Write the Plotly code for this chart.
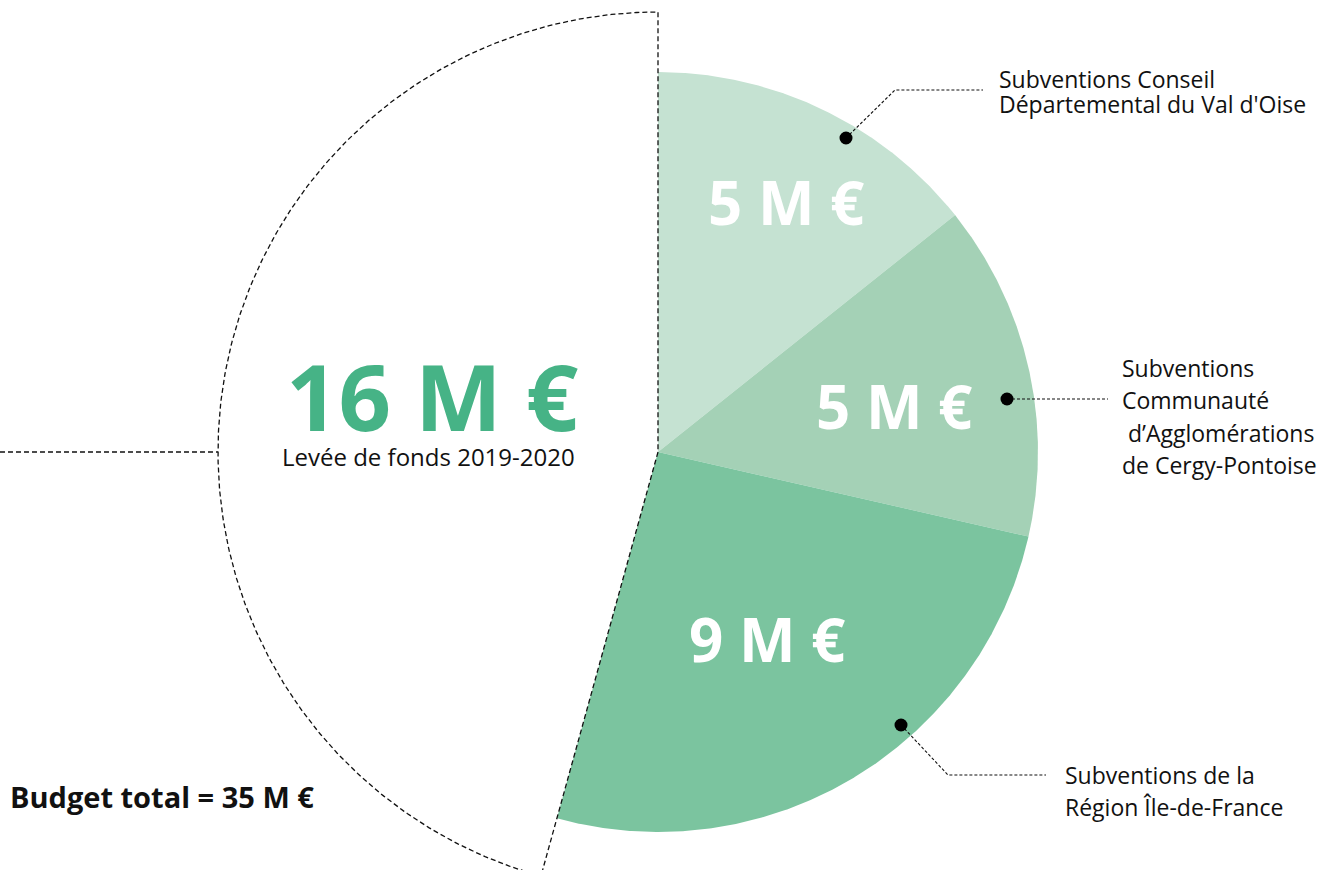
import numpy as np
import plotly.graph_objects as go

# ---- data ----
slice_names = [
    "Subventions Conseil Départemental du Val d'Oise",
    "Subventions Communauté d’Agglomérations de Cergy-Pontoise",
    "Subventions de la Région Île-de-France",
    "Levée de fonds 2019-2020",
]
slice_values = [5, 5, 9, 16]          # M €
budget_total = 35                     # M €
label_lines = [
    ["Subventions Conseil", "Départemental du Val d'Oise"],
    ["Subventions", "Communauté", "\u00a0d’Agglomérations", "de Cergy-Pontoise"],
    ["Subventions de la", "Région Île-de-France"],
]

# ---- styles / geometry ----
slice_colors = ["#C5E2D2", "#A4D1B6", "#7BC49F", "#FFFFFF"]
CX, CY = 658, 452
radii = [380, 380, 380, 440]
FONT = "Open Sans"
TXT = "#111111"

fig = go.Figure()

total = sum(slice_values)
cum = np.concatenate([[0], np.cumsum(slice_values)])


def wedge(i, n=300):
    a0 = cum[i] / total * 2 * np.pi
    a1 = cum[i + 1] / total * 2 * np.pi
    t = np.linspace(a0, a1, n)
    r = radii[i]
    xs = np.concatenate([[CX], CX + r * np.sin(t), [CX]])
    ys = np.concatenate([[CY], CY - r * np.cos(t), [CY]])
    return xs, ys


# white (big) slice fill
xw, yw = wedge(3)
fig.add_trace(go.Scatter(x=xw, y=yw, mode="lines", fill="toself",
                         fillcolor=slice_colors[3], line=dict(width=0),
                         hoverinfo="skip", showlegend=False))
# green slices
for i in range(3):
    xs, ys = wedge(i)
    fig.add_trace(go.Scatter(x=xs, y=ys, mode="lines", fill="toself",
                             fillcolor=slice_colors[i], line=dict(width=0),
                             name=slice_names[i], hoverinfo="name",
                             showlegend=False))
# dotted outline of the big slice
fig.add_trace(go.Scatter(x=xw, y=yw, mode="lines",
                         line=dict(color="#111111", width=1.3, dash="5px,3px"),
                         hoverinfo="skip", showlegend=False))

shapes = []
# left leader for the big slice
shapes.append(dict(type="line", xref="x", yref="y", x0=0, y0=CY, x1=CX - radii[3], y1=CY,
                   line=dict(color="#111111", width=1.3, dash="5px,3px")))

# leader lines with dots (positions only)
leaders = [
    [(846, 138), (895, 90), (983, 90)],
    [(1007, 399), (1108, 399)],
    [(901, 725), (948, 775), (1046, 775)],
]
for pts in leaders:
    path = "M " + " L ".join(f"{x} {y}" for x, y in pts)
    shapes.append(dict(type="path", xref="x", yref="y", path=path,
                       line=dict(color="#111111", width=1.1, dash="3px,2px")))
    dx, dy = pts[0]
    shapes.append(dict(type="circle", xref="x", yref="y",
                       x0=dx - 6.5, x1=dx + 6.5, y0=dy - 6.5, y1=dy + 6.5,
                       fillcolor="#000000", line=dict(width=0)))

annotations = []
# side labels
label_pos = [
    (997, [78.5, 104]),
    (1120, [368, 400, 433, 464.5]),
    (1063, [775, 806.5]),
]
for (x, ys), lines in zip(label_pos, label_lines):
    for y, line in zip(ys, lines):
        annotations.append(dict(x=x, y=y, xref="x", yref="y", text=line,
                                showarrow=False, xanchor="left", yanchor="middle",
                                font=dict(family=FONT, size=23, color=TXT)))

# value labels inside the green slices
val_pos = [(786, 202), (894, 406), (767, 638.5)]
for (x, y), v in zip(val_pos, slice_values[:3]):
    annotations.append(dict(x=x, y=y, xref="x", yref="y", text=f"{v} M €",
                            showarrow=False, xanchor="center", yanchor="middle",
                            font=dict(family=FONT, size=60, color="#FFFFFF", weight="bold")))

# big slice label
annotations.append(dict(x=432, y=395, xref="x", yref="y", text=f"{slice_values[3]} M €",
                        showarrow=False, xanchor="center", yanchor="middle",
                        font=dict(family=FONT, size=92, color="#46B386", weight="bold")))
annotations.append(dict(x=428, y=456, xref="x", yref="y", text=slice_names[3],
                        showarrow=False, xanchor="center", yanchor="middle",
                        font=dict(family=FONT, size=24, color=TXT)))

# budget total
annotations.append(dict(x=8, y=796, xref="x", yref="y", text=f"Budget total = {budget_total} M €",
                        showarrow=False, xanchor="left", yanchor="middle",
                        font=dict(family=FONT, size=29, color=TXT, weight="bold")))

fig.update_layout(
    width=1340, height=870,
    margin=dict(l=0, r=0, t=0, b=0),
    paper_bgcolor="#FFFFFF", plot_bgcolor="#FFFFFF",
    xaxis=dict(range=[0, 1340], visible=False, fixedrange=True),
    yaxis=dict(range=[870, 0], visible=False, fixedrange=True),
    shapes=shapes, annotations=annotations,
    showlegend=False,
)

fig.write_html("out.html", config={"displayModeBar": False})
